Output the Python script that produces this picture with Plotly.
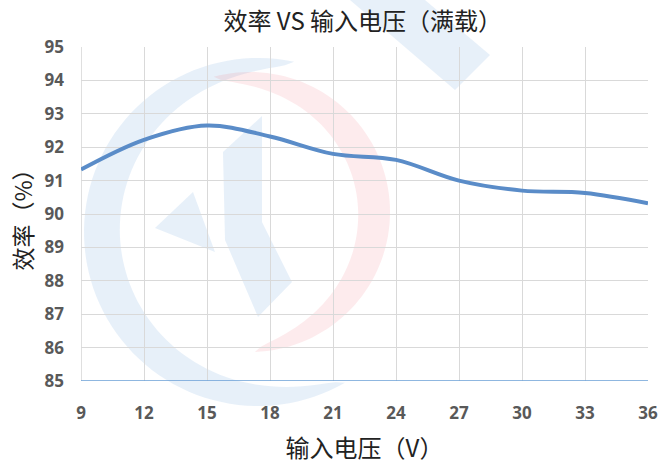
import numpy as np
import plotly.graph_objects as go

voltage = [9, 12, 15, 18, 21, 24, 27, 30, 33, 36]
efficiency = [91.33, 92.22, 92.65, 92.32, 91.8, 91.62, 91.0, 90.7, 90.63, 90.32]
x_ticks = [9, 12, 15, 18, 21, 24, 27, 30, 33, 36]
y_ticks = [85, 86, 87, 88, 89, 90, 91, 92, 93, 94, 95]

font_cjk = "Noto Sans CJK SC"
W, H = 662, 464
L, R, T, B = 81, 14, 47, 83
PW, PH = W - L - R, H - T - B


def to_paper(px, py):
    return (px - L) / PW, (H - B - py) / PH


def path_from_pixels(pts):
    parts = []
    for i, (px, py) in enumerate(pts):
        x, y = to_paper(px, py)
        parts.append(("M" if i == 0 else "L") + f" {x:.4f} {y:.4f}")
    return " ".join(parts) + " Z"


def tapered_arc(cx, cy, r_out, thick, a0, a1, n=80):
    ang = np.radians(np.linspace(a0, a1, n))
    prof = np.sin(np.linspace(0, np.pi, n)) ** 0.6
    outer = [(cx + r_out * np.cos(a), cy - r_out * np.sin(a)) for a in ang]
    inner = [(cx + (r_out - thick * p) * np.cos(a), cy - (r_out - thick * p) * np.sin(a))
             for a, p in zip(ang[::-1], prof[::-1])]
    return outer + inner


blue_fill = "rgba(91,155,213,0.15)"
pink_fill = "rgba(240,110,125,0.14)"

shapes = [
    dict(type="path", xref="paper", yref="paper",
         path=path_from_pixels(tapered_arc(258, 232, 174, 36, 78, 300)),
         fillcolor=blue_fill, line=dict(width=0), layer="below"),
    dict(type="path", xref="paper", yref="paper",
         path=path_from_pixels(tapered_arc(250, 212, 140, 32, 105, -88)),
         fillcolor=pink_fill, line=dict(width=0), layer="below"),
    dict(type="path", xref="paper", yref="paper",
         path=path_from_pixels([(350, 0), (425, 0), (490, 55), (455, 90)]),
         fillcolor=blue_fill, line=dict(width=0), layer="below"),
    dict(type="path", xref="paper", yref="paper",
         path=path_from_pixels([(155, 228), (193, 192), (215, 252)]),
         fillcolor=blue_fill, line=dict(width=0), layer="below"),
    dict(type="path", xref="paper", yref="paper",
         path=path_from_pixels([(223, 152), (262, 116), (262, 222), (292, 282), (258, 317), (225, 240)]),
         fillcolor=blue_fill, line=dict(width=0), layer="below"),
]

fig = go.Figure()
fig.add_trace(go.Scatter(
    x=voltage, y=efficiency, mode="lines",
    line=dict(color="#5a8cc8", width=4, shape="spline", smoothing=1.0),
    hoverinfo="skip", showlegend=False,
))

fig.update_layout(
    width=W, height=H,
    margin=dict(l=L, r=R, t=T, b=B),
    paper_bgcolor="white", plot_bgcolor="white",
    title=dict(text="效率 VS 输入电压（满载）", x=0.548, xanchor="center", y=0.953, yanchor="middle",
               font=dict(family=font_cjk, size=24, color="#222222")),
    shapes=shapes,
    xaxis=dict(
        range=[9, 36], tickvals=x_ticks, ticktext=[str(v) for v in x_ticks],
        showgrid=True, gridcolor="#d9d9d9", gridwidth=1, automargin=False,
        showline=False, zeroline=False, ticks="", ticklabelstandoff=20,
        tickfont=dict(family="Open Sans", size=17, color="#595959", weight="bold"),
        title=dict(text="输入电压（V）", standoff=17,
                   font=dict(family=font_cjk, size=24, color="#222222")),
    ),
    yaxis=dict(
        range=[85, 95], tickvals=y_ticks, ticktext=[str(v) for v in y_ticks],
        showgrid=True, gridcolor="#d9d9d9", gridwidth=1, automargin=False,
        showline=False, zeroline=False, ticks="", ticklabelstandoff=16,
        tickfont=dict(family="Open Sans", size=17, color="#595959", weight="bold"),
        title=dict(text="效率（%）", standoff=5,
                   font=dict(family=font_cjk, size=23, color="#222222")),
    ),
)

fig.add_hline(y=85, line=dict(color="#6a9fd6", width=1.5), layer="above")
fig.add_vline(x=9, line=dict(color="#bfbfbf", width=1), layer="below")

fig.write_html("out.html", config={"displayModeBar": False},
               post_script="document.body.style.margin='0';")
